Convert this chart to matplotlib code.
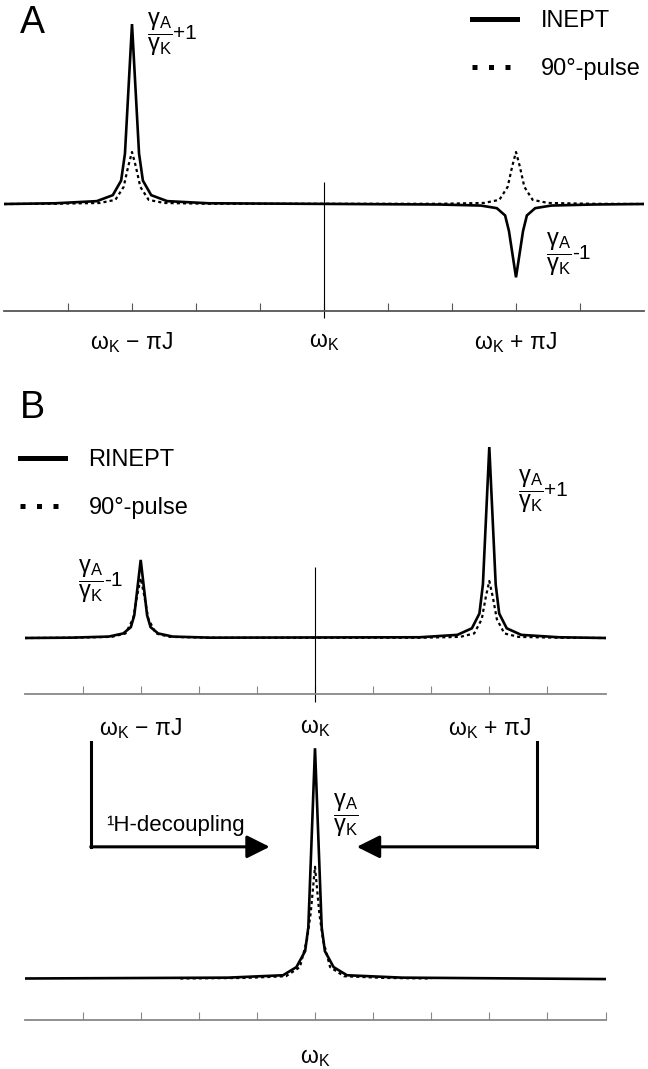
import matplotlib
matplotlib.use('Agg')
import matplotlib.pyplot as plt

plt.rcParams['font.family'] = ['Liberation Sans', 'DejaVu Sans']
plt.rcParams['mathtext.fontset'] = 'custom'
plt.rcParams['mathtext.rm'] = 'Liberation Sans'
plt.rcParams['mathtext.it'] = 'Liberation Sans:italic'
plt.rcParams['mathtext.bf'] = 'Liberation Sans:bold'

# frequency axis in units of piJ/3 (omega_K at 0, omega_K -/+ piJ at -3 / +3)
tick_pos = [-4, -3, -2, -1, 0, 1, 2, 3, 4]
tick_lab = ['', 'ω$_\\mathrm{K}$ − πJ', '', '', 'ω$_\\mathrm{K}$', '', '', 'ω$_\\mathrm{K}$ + πJ', '']

# panel A, intensities relative to the 90-degree pulse line
a_inept_x = [-5, -4.2, -3.55, -3.3, -3.17, -3.11, -3, -2.89, -2.83, -2.7, -2.45, -1.8,
             1.8, 2.45, 2.7, 2.83, 2.89, 3, 3.11, 3.17, 3.3, 3.55, 4.2, 5]
a_inept_y = [0, 0.014, 0.055, 0.17, 0.45, 0.97, 3.46, 0.97, 0.45, 0.17, 0.055, 0.014,
             -0.01, -0.03, -0.08, -0.22, -0.52, -1.41, -0.52, -0.22, -0.08, -0.03, -0.01, 0]
a_pulse_x = [-5, -4.2, -3.5, -3.26, -3.13, -3.06, -3, -2.94, -2.87, -2.74, -2.5, -1.8,
             1.8, 2.5, 2.74, 2.87, 2.94, 3, 3.06, 3.13, 3.26, 3.5, 4.2, 5]
a_pulse_y = [0, 0.004, 0.02, 0.08, 0.33, 0.72, 1.0, 0.72, 0.33, 0.08, 0.02, 0.004,
             0.004, 0.02, 0.08, 0.33, 0.72, 1.0, 0.72, 0.33, 0.08, 0.02, 0.004, 0]

# panel B
b_rinept_x = [-5, -4.2, -3.55, -3.3, -3.17, -3.11, -3, -2.89, -2.83, -2.7, -2.45, -1.8,
              1.8, 2.45, 2.7, 2.83, 2.89, 3, 3.11, 3.17, 3.3, 3.55, 4.2, 5]
b_rinept_y = [0, 0.006, 0.025, 0.08, 0.19, 0.4, 1.37, 0.4, 0.19, 0.08, 0.025, 0.006,
              0.013, 0.055, 0.17, 0.43, 0.94, 3.35, 0.94, 0.43, 0.17, 0.055, 0.013, 0]
b_pulse_x = [-5, -4.2, -3.5, -3.26, -3.13, -3.06, -3, -2.94, -2.87, -2.74, -2.5, -1.8,
             1.8, 2.5, 2.74, 2.87, 2.94, 3, 3.06, 3.13, 3.26, 3.5, 4.2, 5]
b_pulse_y = [0, 0.004, 0.02, 0.08, 0.34, 0.75, 1.05, 0.75, 0.34, 0.08, 0.02, 0.004,
             0.004, 0.02, 0.08, 0.33, 0.72, 1.0, 0.72, 0.33, 0.08, 0.02, 0.004, 0]

# panel C (1H decoupled)
c_rinept_x = [-5, -1.5, -0.55, -0.32, -0.17, -0.115, 0, 0.115, 0.17, 0.32, 0.55, 1.5, 5]
c_rinept_y = [0, 0.015, 0.057, 0.2, 0.48, 0.9, 4.04, 0.9, 0.48, 0.2, 0.057, 0.015, -0.01]
c_pulse_x = [-2.32, -1.2, -0.5, -0.26, -0.14, -0.075, 0, 0.075, 0.14, 0.26, 0.5, 1.2, 2.0]
c_pulse_y = [0, 0.01, 0.04, 0.2, 0.67, 1.14, 1.96, 1.14, 0.67, 0.2, 0.04, 0.01, 0]

W, H = 648, 1069
fig = plt.figure(figsize=(W / 100, H / 100), dpi=100)


def px_axes(x0, y0, x1, y1):
    return fig.add_axes([x0 / W, 1 - y1 / H, (x1 - x0) / W, (y1 - y0) / H])


def ftext(x, y, s, **kw):
    return fig.text(x / W, 1 - y / H, s, **kw)


def ratio_label(ax, x, y, suffix=''):
    # gamma_A / gamma_K fraction followed by the +1 / -1 term
    t = ftext(x, y, r'$\dfrac{\mathrm{γ}_\mathrm{A}}{\mathrm{γ}_\mathrm{K}}$', fontsize=17, va='center')
    if suffix:
        ax.annotate(suffix, xy=(1, 0.5), xycoords=t, xytext=(0.5, 0.5),
                    textcoords='offset points', fontsize=15, va='center', ha='left')


def style_axis(ax, ylo, yhi, tick_color, pad, ticks=tick_pos, labels=tick_lab):
    ax.set_xlim(-5, 5)
    ax.set_ylim(ylo, yhi)
    for s in ['top', 'left', 'right']:
        ax.spines[s].set_visible(False)
    ax.spines['bottom'].set_color(tick_color)
    ax.spines['bottom'].set_linewidth(1.3)
    ax.set_yticks([])
    ax.set_xticks(ticks)
    ax.set_xticklabels(labels, fontsize=16.5)
    ax.tick_params(axis='x', direction='in', length=6, width=0.8, color=tick_color, pad=pad)
    ax.patch.set_alpha(0)


solid = dict(color='black', lw=1.9, solid_joinstyle='miter')
dotted = dict(color='black', lw=1.6, linestyle=(0, (1.4, 1.4)))

# ---- panel A ----
axA = px_axes(4, 0, 644, 311)
style_axis(axA, -107 / 52, 204 / 52, '#555555', 14)
axA.plot(a_inept_x, a_inept_y, **solid)
axA.plot(a_pulse_x, a_pulse_y, **dotted)
axA.vlines(0, -114 / 52, 22 / 52, color='black', lw=0.8, clip_on=False)
hA1, = axA.plot([], [], color='black', lw=3.6)
hA2, = axA.plot([], [], color='black', lw=3.6, linestyle=(0, (1, 2.3)))
axA.legend([hA1, hA2], ['INEPT', '90°-pulse'], loc='upper left', frameon=False,
           bbox_to_anchor=(472 / W, 1 - 10 / H), bbox_transform=fig.transFigure,
           fontsize=17, handlelength=1.9, handletextpad=1.0, labelspacing=1.1,
           borderpad=0, borderaxespad=0)
ftext(20, 33, 'A', fontsize=27, va='baseline')
ratio_label(axA, 147, 34, '+1')
ratio_label(axA, 546, 254, '-1')

# ---- panel B ----
axB = px_axes(24.5, 430, 605.5, 694)
style_axis(axB, -56 / 57, 208 / 57, '#888888', 16)
axB.plot(b_rinept_x, b_rinept_y, **solid)
axB.plot(b_pulse_x, b_pulse_y, **dotted)
axB.vlines(0, -64 / 57, 71 / 57, color='black', lw=0.8, clip_on=False)
hB1, = axB.plot([], [], color='black', lw=3.6)
hB2, = axB.plot([], [], color='black', lw=3.6, linestyle=(0, (1, 2.3)))
axB.legend([hB1, hB2], ['RINEPT', '90°-pulse'], loc='upper left', frameon=False,
           bbox_to_anchor=(20 / W, 1 - 449 / H), bbox_transform=fig.transFigure,
           fontsize=17, handlelength=1.9, handletextpad=1.0, labelspacing=1.1,
           borderpad=0, borderaxespad=0)
ftext(20, 418, 'B', fontsize=27, va='baseline')
ratio_label(axB, 518, 491, '+1')
ratio_label(axB, 78, 581, '-1')

# ---- panel C ----
axC = px_axes(24.5, 735, 605.5, 1020)
style_axis(axC, -41.5 / 57, 243.5 / 57, '#888888', 19,
           ticks=tick_pos + [5], labels=[''] * 4 + ['ω$_\\mathrm{K}$'] + [''] * 5)
axC.plot(c_rinept_x, c_rinept_y, **solid)
axC.plot(c_pulse_x, c_pulse_y, **dotted)
ratio_label(axC, 333, 815)
ftext(106, 826, '¹H-decoupling', fontsize=16, va='center')

# decoupling arrows: from the doublet lines to the collapsed singlet
arr_y0, arr_y1 = 4.15, 2.31
for x0, tip in [(-3.86, -0.78), (3.82, 0.72)]:
    axC.plot([x0, x0], [arr_y0, arr_y1], color='black', lw=2.2, solid_capstyle='projecting')
    axC.annotate('', xy=(tip, arr_y1), xytext=(x0, arr_y1),
                 arrowprops=dict(arrowstyle='-|>,head_length=0.7,head_width=0.35',
                                 color='black', lw=2.2, shrinkA=0, shrinkB=0,
                                 mutation_scale=20))

fig.savefig('out.png', dpi=100)
